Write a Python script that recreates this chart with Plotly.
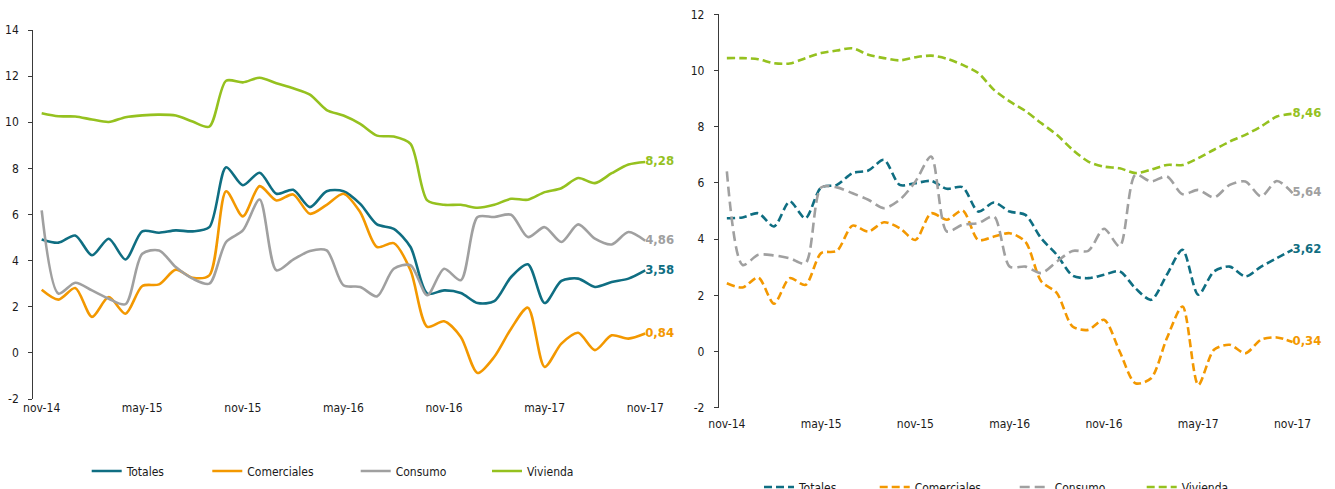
import plotly.graph_objects as go

W, H = 1335, 489

# month index 0 = nov-14 ... 36 = nov-17
tick_idx = [0, 6, 12, 18, 24, 30, 36]
tick_labels = ["nov-14", "may-15", "nov-15", "may-16", "nov-16", "may-17", "nov-17"]
series = ["Totales", "Comerciales", "Consumo", "Vivienda"]

# left chart (solid lines)
totales_l = [4.92, 4.78, 5.09, 4.23, 4.95, 4.05, 5.27, 5.21, 5.31, 5.27, 5.45, 8.05, 7.27, 7.81, 6.90, 7.07, 6.32, 7.01, 7.01,
             6.46, 5.57, 5.38, 4.59, 2.57, 2.71, 2.60, 2.16, 2.24, 3.29, 3.84, 2.16, 3.12, 3.22, 2.86, 3.07, 3.22, 3.58]
comerciales_l = [2.74, 2.31, 2.81, 1.56, 2.42, 1.70, 2.90, 2.97, 3.61, 3.26, 3.36, 7.01, 5.92, 7.23, 6.61, 6.87, 6.03, 6.42, 6.90,
                 6.10, 4.59, 4.76, 3.58, 1.13, 1.37, 0.69, -0.87, -0.17, 1.05, 1.96, -0.61, 0.40, 0.87, 0.12, 0.76, 0.62, 0.84]
consumo_l = [6.18, 2.57, 3.04, 2.71, 2.35, 2.11, 4.30, 4.44, 3.72, 3.22, 3.00, 4.81, 5.31, 6.65, 3.58, 4.04, 4.42, 4.44, 2.93,
             2.86, 2.45, 3.65, 3.80, 2.50, 3.65, 3.15, 5.89, 5.89, 5.99, 5.02, 5.45, 4.81, 5.57, 4.95, 4.70, 5.24, 4.86]
vivienda_l = [10.39, 10.26, 10.25, 10.12, 10.01, 10.22, 10.30, 10.33, 10.29, 10.03, 9.81, 11.80, 11.73, 11.93, 11.69, 11.47,
              11.20, 10.53, 10.29, 9.93, 9.42, 9.38, 9.06, 6.61, 6.42, 6.42, 6.29, 6.42, 6.68, 6.64, 6.97, 7.14, 7.58, 7.36,
              7.79, 8.17, 8.28]

# right chart (dashed lines)
totales_r = [4.74, 4.77, 4.92, 4.45, 5.34, 4.74, 5.84, 5.93, 6.35, 6.44, 6.82, 5.93, 5.99, 6.07, 5.79, 5.85, 4.98, 5.30, 4.98,
             4.86, 4.03, 3.44, 2.70, 2.61, 2.73, 2.85, 2.25, 1.84, 2.73, 3.62, 2.02, 2.85, 3.02, 2.67, 3.02, 3.32, 3.62]
comerciales_r = [2.43, 2.28, 2.63, 1.70, 2.61, 2.37, 3.50, 3.58, 4.48, 4.27, 4.60, 4.39, 3.97, 4.92, 4.69, 5.02, 3.97, 4.09, 4.21,
                 3.91, 2.50, 2.08, 0.89, 0.77, 1.13, 0.00, -1.13, -0.95, 0.47, 1.60, -1.19, 0.06, 0.24, -0.06, 0.42, 0.50, 0.34]
consumo_r = [6.41, 3.08, 3.44, 3.42, 3.32, 3.14, 5.84, 5.84, 5.63, 5.40, 5.10, 5.40, 6.05, 6.94, 4.27, 4.51, 4.57, 4.80, 3.02,
             3.02, 2.79, 3.20, 3.58, 3.58, 4.37, 3.74, 6.29, 6.05, 6.23, 5.60, 5.75, 5.48, 5.93, 6.05, 5.52, 6.07, 5.64]
vivienda_r = [10.44, 10.44, 10.40, 10.26, 10.25, 10.44, 10.62, 10.71, 10.79, 10.56, 10.44, 10.36, 10.47, 10.53, 10.42, 10.20,
              9.91, 9.31, 8.90, 8.56, 8.13, 7.71, 7.18, 6.76, 6.58, 6.52, 6.35, 6.47, 6.64, 6.64, 6.88, 7.18, 7.47, 7.71,
              8.01, 8.36, 8.46]

colors = ["#0F6E82", "#F39800", "#A0A0A0", "#95C11F"]
FONT = "DejaVu Sans Condensed, DejaVu Sans, sans-serif"
AX = "#3a3a3a"

# plot areas in pixels (x0, x1, ytop, ybottom)
left_px = (33.3, 653.6, 30, 399)
right_px = (719, 1300.4, 14.3, 407.7)
left_rng = (-2, 14)
right_rng = (-2, 12)


def dom(px):
    return [px[0] / W, px[1] / W], [(H - px[3]) / H, (H - px[2]) / H]


fig = go.Figure()
x = list(range(len(totales_l)))

def label(vals):
    return [""] * (len(vals) - 1) + [f"{vals[-1]:.2f}".replace(".", ",")]

n = 0
for side, data, xa, ya in [("l", [totales_l, comerciales_l, consumo_l, vivienda_l], "x", "y"),
                           ("r", [totales_r, comerciales_r, consumo_r, vivienda_r], "x2", "y2")]:
    for name, vals, c in zip(series, data, colors):
        n += 1
        dash = "solid" if side == "l" else ("10px,5px" if name == "Consumo" else "8px,4px")
        fig.add_trace(go.Scatter(
            x=x, y=vals, name=name, xaxis=xa, yaxis=ya, mode="lines+text", cliponaxis=False,
            text=label(vals), textposition="middle right",
            textfont=dict(color=c, size=13, family=FONT, weight="bold"),
            line=dict(color=c, width=2.6, shape="spline", smoothing=0.8, dash=dash),
            legend="legend" if n == 1 else f"legend{n}", hoverinfo="skip"))

lx, ly = dom(left_px)
rx, ry = dom(right_px)

def zero_pos(ydom, rng):
    return ydom[0] + (0 - rng[0]) / (rng[1] - rng[0]) * (ydom[1] - ydom[0])

xbase = dict(range=[-0.5, 36.5], tickvals=tick_idx, ticktext=tick_labels, showline=False, ticks="",
             showgrid=False, zeroline=False, tickfont=dict(family=FONT, size=12, color="#1a1a1a"))
xtick = dict(range=[-0.5, 36.5], tickvals=[5.5, 11.5, 17.5, 23.5, 29.5, 35.5], showticklabels=False,
             ticks="outside", ticklen=4, tickcolor=AX, showline=True, linecolor=AX, linewidth=1.3,
             showgrid=False, zeroline=False, anchor="free")
ybase = dict(showline=True, linecolor=AX, linewidth=1.3, ticks="outside", ticklen=4, tickcolor=AX,
             showgrid=False, zeroline=False, tickfont=dict(family=FONT, size=12, color="#1a1a1a"),
             ticklabelstandoff=7)

fig.update_layout(
    width=W, height=H, plot_bgcolor="white", paper_bgcolor="white", showlegend=True,
    margin=dict(l=0, r=0, t=0, b=0, autoexpand=False),
    font=dict(family=FONT, size=12, color="#1a1a1a"),
    xaxis=dict(xbase, domain=lx, anchor="y", ticklabelstandoff=0),
    xaxis2=dict(xbase, domain=rx, anchor="y2", ticklabelstandoff=7),
    xaxis3=dict(xtick, overlaying="x", position=zero_pos(ly, left_rng)),
    xaxis4=dict(xtick, overlaying="x2", position=zero_pos(ry, right_rng)),
    yaxis=dict(ybase, domain=ly, anchor="x", range=list(left_rng),
               tickvals=list(range(-2, 15, 2)), ticktext=[str(v) for v in range(-2, 15, 2)]),
    yaxis2=dict(ybase, domain=ry, anchor="x2", range=list(right_rng),
                tickvals=list(range(-2, 13, 2)), ticktext=[str(v) for v in range(-2, 13, 2)]),
)

# one legend per entry so the spacing follows the original layout
leg_x = [92.7, 213.3, 361.7, 493, 765, 880.7, 1020.7, 1147.7]
for i, px in enumerate(leg_x):
    key = "legend" if i == 0 else f"legend{i + 1}"
    yc = 471 if i < 4 else 487
    fig.layout[key] = dict(x=(px - 6) / W, y=(H - yc) / H, xanchor="left", yanchor="middle",
                           orientation="h", bgcolor="rgba(0,0,0,0)", borderwidth=0,
                           font=dict(family=FONT, size=12, color="#1a1a1a"))

# page body has a default 8px margin; drop it so the figure sits at the window corner
fig.write_html("out.html", config={"displayModeBar": False},
               post_script="document.body.style.margin='0';")
